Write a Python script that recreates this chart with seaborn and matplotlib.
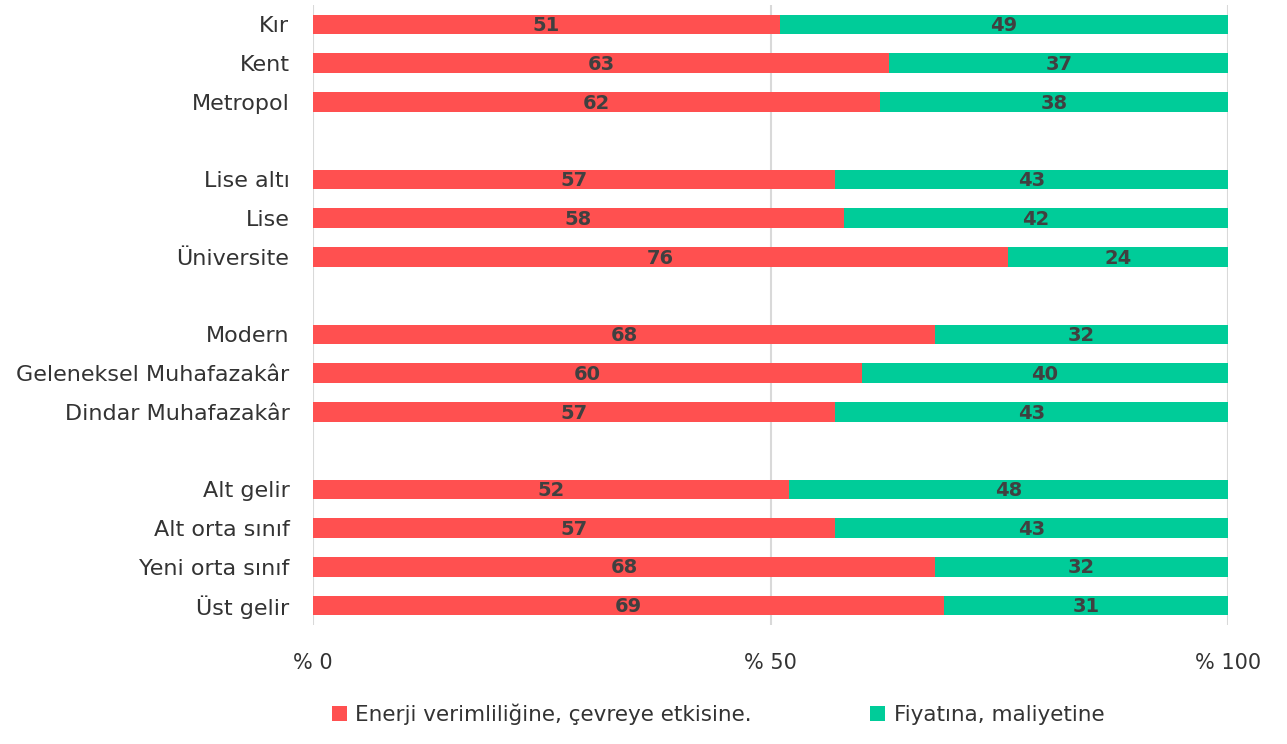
import matplotlib
matplotlib.use("Agg")
import matplotlib.pyplot as plt
import pandas as pd
import seaborn as sns
from matplotlib.patches import Patch

# values (percent)
categories = ["Kır", "Kent", "Metropol",
              "Lise altı", "Lise", "Üniversite",
              "Modern", "Geleneksel Muhafazakâr", "Dindar Muhafazakâr",
              "Alt gelir", "Alt orta sınıf", "Yeni orta sınıf", "Üst gelir"]
energy = [51, 63, 62, 57, 58, 76, 68, 60, 57, 52, 57, 68, 69]
price = [49, 37, 38, 43, 42, 24, 32, 40, 43, 48, 43, 32, 31]
series_names = ["Enerji verimliliğine, çevreye etkisine.", "Fiyatına, maliyetine"]

# empty rows between the groups
order = (categories[0:3] + [" "] + categories[3:6] + ["  "]
         + categories[6:9] + ["   "] + categories[9:13])

RED = "#FF5050"
GREEN = "#00CC99"
LABEL_COLOR = "#404040"
TEXT_COLOR = "#333333"

df = pd.DataFrame({"cat": categories, "energy": energy, "price": price})
df["total"] = df["energy"] + df["price"]

sns.set_style("white")
plt.rcParams["font.family"] = ["DejaVu Sans"]

fig = plt.figure(figsize=(12.87, 7.44), dpi=100)
ax = fig.add_axes([0.2432, 0.16, 0.711, 0.8333])

sns.barplot(data=df, y="cat", x="total", order=order, color=GREEN,
            saturation=1, width=0.5, errorbar=None, linewidth=0, ax=ax)
sns.barplot(data=df, y="cat", x="energy", order=order, color=RED,
            saturation=1, width=0.5, errorbar=None, linewidth=0, ax=ax)

for _, row in df.iterrows():
    ypos = order.index(row["cat"])
    ax.text(row["energy"] / 2, ypos + 0.03, f"{row['energy']:.0f}", ha="center", va="center",
            fontsize=14, fontweight="bold", color=LABEL_COLOR)
    ax.text(row["energy"] + row["price"] / 2, ypos + 0.03, f"{row['price']:.0f}", ha="center",
            va="center", fontsize=14, fontweight="bold", color=LABEL_COLOR)

ax.set_xlim(0, 100)
ax.set_ylim(len(order) - 0.5, -0.5)
ax.set_xticks([0, 50, 100])
ax.set_xticklabels(["% 0", "% 50", "% 100"])
ax.set_xlabel("")
ax.set_ylabel("")
ax.grid(axis="x", color="#D9D9D9", linewidth=1.5)
ax.set_axisbelow(True)
for s in ax.spines.values():
    s.set_visible(False)
ax.tick_params(axis="x", length=0, pad=20, labelsize=15, labelcolor=TEXT_COLOR)
ax.tick_params(axis="y", length=0, pad=17, labelsize=16, labelcolor=TEXT_COLOR)

handles = [Patch(facecolor=RED, edgecolor="none"), Patch(facecolor=GREEN, edgecolor="none")]
fig.legend(handles, series_names, loc="lower center", bbox_to_anchor=(0.558, 0.0),
           ncol=2, frameon=False, fontsize=15.5, handlelength=0.7, handleheight=0.7,
           handletextpad=0.4, columnspacing=5.5, labelcolor=TEXT_COLOR)

fig.savefig("out.png", dpi=100, facecolor="white")
